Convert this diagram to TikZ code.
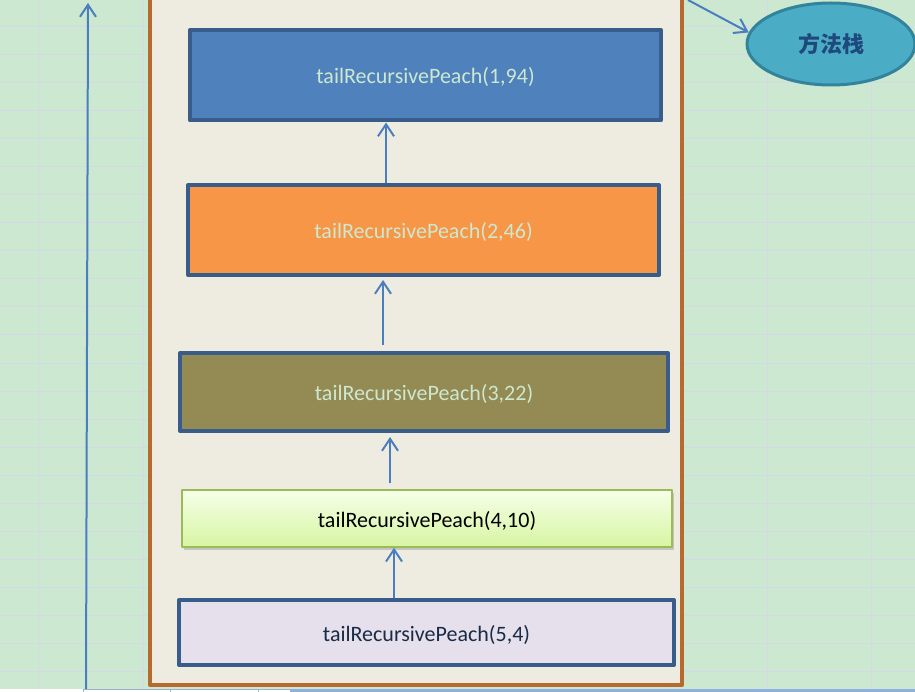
\documentclass[tikz,border=0pt]{standalone}
\usepackage{fontspec}
\setmainfont{Carlito}
\newfontfamily\cjk{Noto Sans CJK SC}
\usetikzlibrary{arrows.meta,shapes.geometric,shadows}
\definecolor{sheetgreen}{HTML}{CDE8D0}
\definecolor{gridcol}{HTML}{D3D9E8}
\definecolor{tabcol}{HTML}{A0AFC8}
\definecolor{tabbar}{HTML}{8DB0DC}
\definecolor{framecol}{HTML}{B66A2E}
\definecolor{papercol}{HTML}{EEEBE1}
\definecolor{flowcol}{HTML}{4A7EBF}
\definecolor{edgecol}{HTML}{385D8A}
\definecolor{mintcol}{HTML}{CDE8CF}
\definecolor{navycol}{HTML}{1A2B45}
\definecolor{ellfill}{HTML}{4BACC6}
\definecolor{elledge}{HTML}{31849B}
\definecolor{elltext}{HTML}{1F497D}
\definecolor{bluefill}{HTML}{4F81BD}
\definecolor{orangefill}{HTML}{F79646}
\definecolor{olivefill}{HTML}{948A54}
\definecolor{limetop}{HTML}{F5FFE8}
\definecolor{limebot}{HTML}{D7F5A2}
\definecolor{limeedge}{HTML}{9BBB59}
\definecolor{lilacfill}{HTML}{E5E0EC}
\begin{document}
\begin{tikzpicture}[x=1pt, y=-1pt, font=\fontsize{22}{26}\selectfont, line join=round,
  >={Straight Barb[length=12pt,width=16pt]},
  gridline/.style={gridcol, line width=1pt},
  flow/.style={flowcol, line width=2pt},
  callbox/.style={draw=edgecol, line width=4pt, inner sep=0pt, text=mintcol, text height=17pt, text depth=0pt},
  stackell/.style={ellipse, draw=elledge, line width=3pt, fill=ellfill, inner sep=0pt,
    minimum width=168pt, minimum height=82pt, text=elltext}]
\useasboundingbox (0,0) rectangle (915,692);
\clip (0,0) rectangle (915,692);
% sheet
\fill[sheetgreen] (0,0) rectangle (915,689);
\foreach \k in {0,...,23} \draw[gridline] (0,27+28*\k) -- (915,27+28*\k);
\foreach \x in {38,143,767,871} \draw[gridline] (\x,0) -- (\x,689);
\fill[white] (0,689) rectangle (915,692);
\draw[tabcol, line width=1pt] (83,692) -- (83,689.5) -- (290,689.5) (170,689.5) -- (170,692) (258,689.5) -- (258,692);
\draw[tabbar, line width=3pt] (290,690.5) -- (915,690.5);
% stack frame
\draw[framecol, fill=papercol, line width=4pt] (150,-10) rectangle (682,685);
\coordinate (lb) at (86,689);
\coordinate (lt) at (88,3);
\draw[flow,->] (lb) -- (lt);
\node[stackell] (stack) at (831,44) {\cjk\bfseries 方法栈};
\coordinate (tr) at (688,0);
\draw[flow,->] (tr) -- (stack.172);
% frames
\node[callbox, fill=bluefill, minimum width=471pt, minimum height=90.5pt] (p1) at (425.5,75.25) {tailRecursivePeach(1,94)};
\node[callbox, fill=orangefill, minimum width=471pt, minimum height=90pt] (p2) at (423.5,230) {tailRecursivePeach(2,46)};
\node[callbox, fill=olivefill, minimum width=488pt, minimum height=78pt] (p3) at (424,392) {tailRecursivePeach(3,22)};
\node[draw=limeedge, line width=1.5pt, inner sep=0pt, top color=limetop, bottom color=limebot,
  drop shadow={shadow xshift=1.5pt, shadow yshift=-2.5pt, opacity=0.35}, text height=17pt, text depth=0pt,
  minimum width=490pt, minimum height=57pt] (p4) at (427,518.5) {tailRecursivePeach(4,10)};
\node[callbox, fill=lilacfill, text=navycol, minimum width=495pt, minimum height=65pt] (p5) at (426.5,632.5) {tailRecursivePeach(5,4)};
\draw[flow,->] ([xshift=-37.5pt]p2.north) -- ([xshift=-39.5pt]p1.south);
\draw[flow,->, shorten <=6pt, shorten >=3pt] ([xshift=-41pt]p3.north) -- ([xshift=-40.5pt]p2.south);
\draw[flow,->, shorten <=6pt, shorten >=4pt] ([xshift=-37pt]p4.north) -- ([xshift=-34pt]p3.south);
\draw[flow,->] ([xshift=-32.5pt]p5.north) -- ([xshift=-33pt]p4.south);
\end{tikzpicture}
\end{document}
